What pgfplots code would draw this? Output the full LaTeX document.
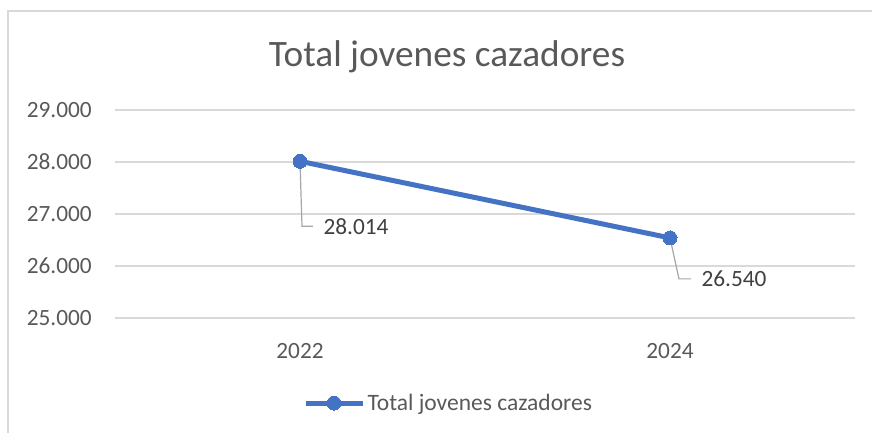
\documentclass[border=0pt]{standalone}
\usepackage{fontspec}
\setmainfont{Carlito}
\usepackage{pgfplots}
\pgfplotsset{compat=1.18}
\definecolor{txtgray}{HTML}{595959}
\definecolor{lblgray}{HTML}{404040}
\definecolor{gridgray}{HTML}{D9D9D9}
\definecolor{leadgray}{HTML}{A6A6A6}
\definecolor{frame}{HTML}{D9D9D9}
\definecolor{blueline}{HTML}{4472C4}
\begin{document}
\begin{tikzpicture}
\useasboundingbox (0,0) rectangle (872bp,433bp);
\draw[frame, line width=1.2bp] (8bp,0) -- (8bp,422bp) -- (872bp,422bp);
\node[anchor=base, text=txtgray, font=\fontsize{37.3bp}{44bp}\selectfont, inner sep=0pt] at (447bp,366bp) {Total jovenes cazadores};
\begin{axis}[
  at={(115bp,115bp)}, anchor=south west,
  scale only axis, width=740bp, height=208bp,
  xmin=-0.5, xmax=1.5, ymin=25000, ymax=29000,
  xtick={0,1}, xticklabels={2022,2024},
  ytick={25000,26000,27000,28000,29000},
  scaled y ticks=false,
  axis line style={draw=none},
  major tick length=0pt,
  ymajorgrids, grid style={gridgray, line width=1.3bp},
  /pgf/number format/assume math mode=true,
  /pgf/number format/1000 sep={.},
  /pgf/number format/fixed,
  every tick label/.append style={text=txtgray, font=\fontsize{23.3bp}{28bp}\selectfont, inner sep=0pt},
  yticklabel style={anchor=east, xshift=-23bp},
  xticklabel style={anchor=north, yshift=-25bp},
  clip=false,
  legend style={at={(0.451,-0.409)}, anchor=center, draw=none, fill=none,
    font=\fontsize{23.5bp}{28bp}\selectfont, text=txtgray, inner sep=0pt},
  legend image code/.code={\draw[#1, mark repeat=2, mark phase=2] plot coordinates {(0bp,0bp) (28bp,0bp) (57bp,0bp)};},
  legend cell align=left,
]
\addplot[blueline, line width=5bp, mark=*, mark size=7bp, mark options={fill=blueline, draw=blueline, line width=0pt}]
  coordinates {(0,28014) (1,26540)};
\addlegendentry{Total jovenes cazadores}
\draw[leadgray, line width=1.2bp] (axis cs:0,28014) -- (axis cs:0.0054,26764) -- (axis cs:0.0351,26764)
  node[anchor=west, xshift=10bp, inner sep=0pt, text=lblgray, font=\fontsize{23.3bp}{28bp}\selectfont] {28.014};
\draw[leadgray, line width=1.2bp] (axis cs:1,26540) -- (axis cs:1.0243,25752) -- (axis cs:1.0568,25752)
  node[anchor=west, xshift=10bp, inner sep=0pt, text=lblgray, font=\fontsize{23.3bp}{28bp}\selectfont] {26.540};
\end{axis}
\end{tikzpicture}
\end{document}
